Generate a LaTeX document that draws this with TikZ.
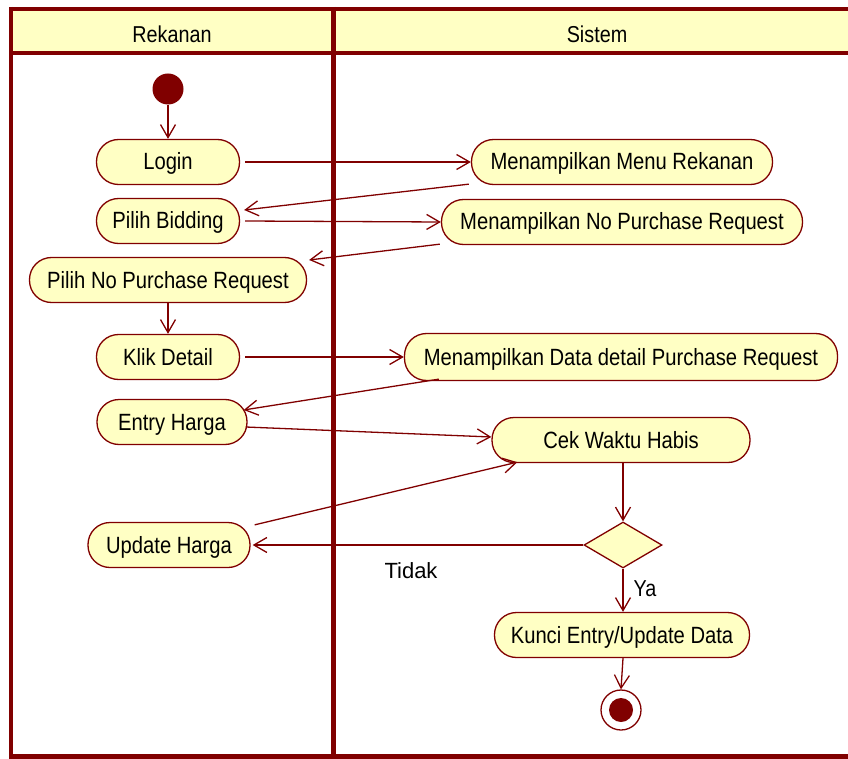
\documentclass[tikz,border=0pt]{standalone}
\usepackage{fontspec}
\setmainfont{Liberation Sans}[FakeStretch=0.86]
\newfontfamily\plainsans{Liberation Sans}
\usetikzlibrary{arrows.meta,shapes.geometric,calc}
\definecolor{umlred}{HTML}{800000}
\definecolor{umlfill}{HTML}{FFFFC4}
\begin{document}
\begin{tikzpicture}[x=1pt,y=-1pt,
  act/.style={draw=umlred, fill=umlfill, line width=1.3pt, rounded corners=22pt,
    minimum height=45pt, inner sep=0pt, text height=20pt, text depth=4pt,
    font=\fontsize{23.5}{26}\selectfont},
  flow/.style={draw=umlred, line width=1.3pt, -{Straight Barb[length=13pt,width=15pt,line width=1.3pt]}},
  lbl/.style={font=\fontsize{23}{26}\selectfont, inner sep=0pt},
  frame/.style={draw=umlred, line width=4pt}]
\useasboundingbox (0,0) rectangle (848,759);

% swimlane frame
\fill[umlfill] (11,10) rectangle (850,52);
\draw[frame] (9,9) -- (850,9);
\draw[frame] (11,53) -- (850,53);
\draw[frame] (11,7) -- (11,757);
\draw[frame, line width=5pt] (9,756) -- (850,756);
\draw[frame, line width=5pt] (333,7) -- (333,757);
\node[lbl] (laneA) at (172,34) {Rekanan};
\node[lbl] (laneB) at (597,34) {Sistem};

% Rekanan lane
\node[circle, fill=umlred, minimum size=31pt, inner sep=0pt] (start) at (168,89) {};
\node[act, minimum width=143pt] (login) at (168,162) {Login};
\node[act, minimum width=143pt] (pb) at (168,221) {Pilih Bidding};
\node[act, minimum width=277pt] (pnpr) at (168,280) {Pilih No Purchase Request};
\node[act, minimum width=143pt] (kd) at (168,357) {Klik Detail};
\node[act, minimum width=150pt] (eh) at (172,422) {Entry Harga};
\node[act, minimum width=162pt] (uh) at (169,545) {Update Harga};

% Sistem lane
\node[act, minimum width=301pt] (menu) at (622,162) {Menampilkan Menu Rekanan};
\node[act, minimum width=361pt] (nopr) at (622,222) {Menampilkan No Purchase Request};
\node[act, minimum width=433pt, minimum height=47pt] (dd) at (621,357) {Menampilkan Data detail Purchase Request};
\node[act, minimum width=258pt] (cek) at (621,440) {Cek Waktu Habis};
\node[diamond, draw=umlred, fill=umlfill, line width=1.3pt, minimum width=78pt,
  minimum height=46pt, inner sep=0pt, aspect=1.7] (dia) at (623,545) {};
\node[act, minimum width=255pt] (kunci) at (622,635) {Kunci Entry/Update Data};
\node[circle, draw=umlred, line width=1.3pt, fill=white, minimum size=40pt, inner sep=0pt] (fin) at (621,710) {};
\node[circle, fill=umlred, minimum size=24pt, inner sep=0pt] (finin) at (621,710) {};

% control flows
\draw[flow] (start) -- (login);
\draw[flow] ([xshift=5pt]login.east) -- (menu.west);
\draw[flow] ([shift={(-2,-1)}]menu.south west) -- ([shift={(4,-11)}]pb.east);
\draw[flow] ([xshift=5pt]pb.east) -- (nopr.west);
\draw[flow] ([shift={(-1,-1)}]nopr.south west) -- ([shift={(2,-20)}]pnpr.east);
\draw[flow] (pnpr) -- (kd);
\draw[flow] ([xshift=5pt]kd.east) -- (dd.west);
\draw[flow] ([shift={(35,-2)}]dd.south west) -- ([shift={(-4,-12)}]eh.east);
\draw[flow] ([shift={(-2,5)}]eh.east) -- ([shift={(0,-3)}]cek.west);
\draw[flow] ([shift={(4,3)}]uh.north east) -- ([shift={(26,-1)}]cek.south west);
\draw[flow] (cek.south -| dia.north) -- (dia.north);
\draw[flow] (dia.west) -- ([xshift=2pt]uh.east);
\draw[flow] (dia.south) -- (kunci.north -| dia.south);
\draw[flow] (kunci.south -| dia.south) -- (fin.north);
\node[lbl, font=\plainsans\fontsize{22}{26}\selectfont] (tidak) at (411,571) {Tidak};
\node[lbl] (ya) at (645,589) {Ya};
\end{tikzpicture}
\end{document}
